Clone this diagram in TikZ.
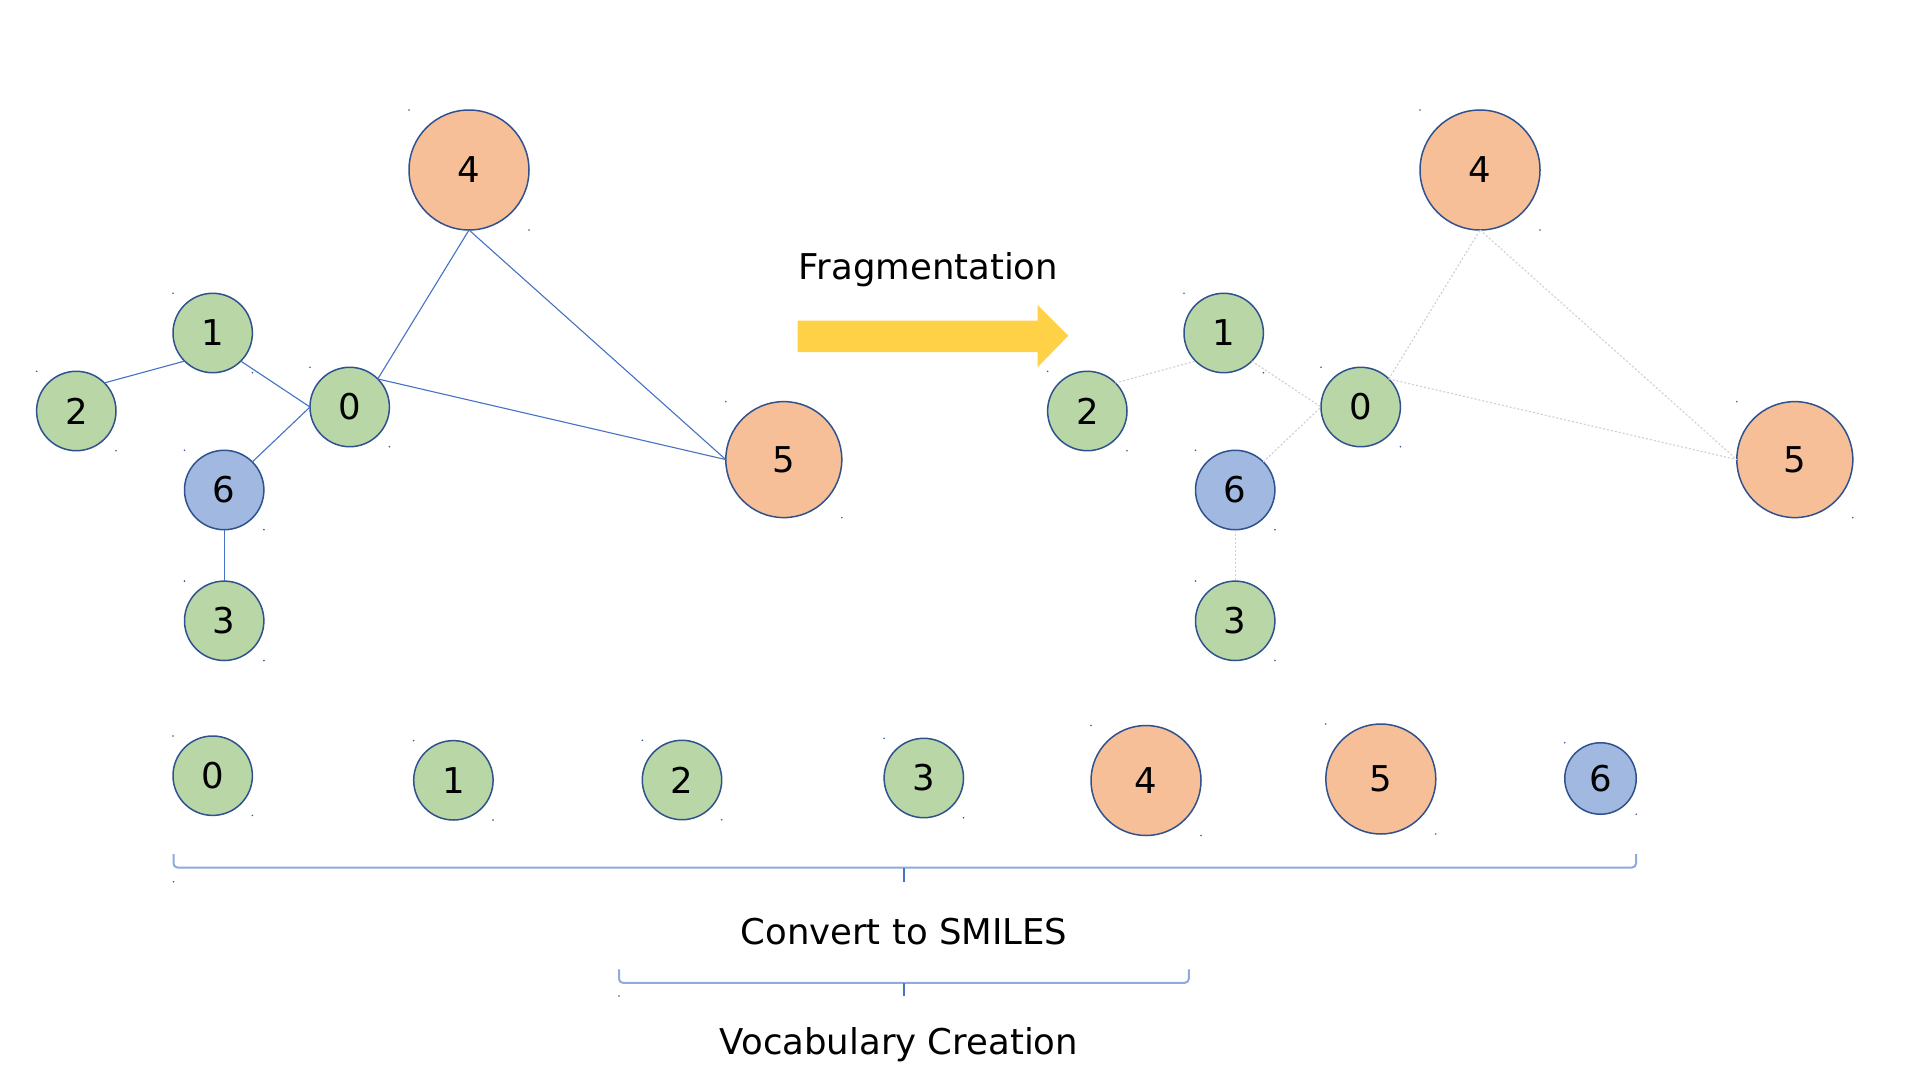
\documentclass[tikz,border=0pt]{standalone}
\usepackage{fontspec}
\setmainfont{DejaVu Sans}
\definecolor{gfill}{HTML}{B9D7A6}
\definecolor{ofill}{HTML}{F7BF98}
\definecolor{bfill}{HTML}{A1B8E1}
\definecolor{outl}{HTML}{2F528F}
\definecolor{edgec}{HTML}{4472C4}
\definecolor{fragc}{HTML}{CFCFCF}
\definecolor{bracec}{HTML}{8FAADC}
\definecolor{arrowc}{HTML}{FFD146}
\tikzset{
  atom/.style={circle, draw=outl, line width=1.5pt, inner sep=0pt, outer sep=0pt,
    font=\fontsize{35.5}{40}\selectfont},
  gatom/.style={atom, fill=gfill, minimum size=79.4pt},
  oatom/.style={atom, fill=ofill},
  batom/.style={atom, fill=bfill, minimum size=79.4pt},
  bond/.style={draw=edgec, line width=1.1pt},
  fbond/.style={draw=fragc, line width=1.1pt, dash pattern=on 2pt off 2pt},
  label/.style={font=\fontsize{35.5}{40}\selectfont, anchor=base, inner sep=0pt},
  bracestyle/.style={draw=bracec, line width=2pt, rounded corners=4pt},
  tickstyle/.style={draw=edgec, line width=2pt},
  dotc/.style={fill=edgec!80!black}
}
\begin{document}
\begin{tikzpicture}[x=1pt,y=-1pt]
\useasboundingbox (0,0) rectangle (1906,1074);
\fill[white] (0,0) rectangle (1906,1074);

% left graph
\node[oatom, minimum size=120pt] (L4) at (469,170) {4};
\node[gatom] (L1) at (212.7,333) {1};
\node[gatom] (L2) at (76.3,411) {2};
\node[gatom] (L0) at (349.7,407) {0};
\node[batom] (L6) at (224.2,490) {6};
\node[gatom] (L3) at (224.2,620.8) {3};
\node[oatom, minimum size=116pt] (L5) at (783.8,459.6) {5};
\draw[bond] (L2.north east) -- (L1.south west);
\draw[bond] (L1.south east) -- (L0.west);
\draw[bond] (L6.north east) -- (L0.west);
\draw[bond] (L6.south) -- (L3.north);
\draw[bond] (L0.north east) -- (L4.south);
\draw[bond] (L0.north east) -- (L5.west);
\draw[bond] (L4.south) -- (L5.west);

% right graph (fragmented)
\begin{scope}[xshift=1011pt]
\node[oatom, minimum size=120pt] (R4) at (469,170) {4};
\node[gatom] (R1) at (212.7,333) {1};
\node[gatom] (R2) at (76.3,411) {2};
\node[gatom] (R0) at (349.7,407) {0};
\node[batom] (R6) at (224.2,490) {6};
\node[gatom] (R3) at (224.2,620.8) {3};
\node[oatom, minimum size=116pt] (R5) at (783.8,459.6) {5};
\end{scope}
\begin{scope}[on background layer/.style={}]
\draw[fbond] (R2.north east) -- (R1.south west);
\draw[fbond] (R1.south east) -- (R0.west);
\draw[fbond] (R6.north east) -- (R0.west);
\draw[fbond] (R6.south) -- (R3.north);
\draw[fbond] (R0.north east) -- (R4.south);
\draw[fbond] (R0.north east) -- (R5.west);
\draw[fbond] (R4.south) -- (R5.west);
\end{scope}

% arrow
\fill[arrowc] (797.7,320.7) -- (1037.5,320.7) -- (1037.5,305) -- (1068.3,335.8)
  -- (1037.5,367.3) -- (1037.5,352) -- (797.7,352) -- cycle;
\node[label] (frag) at (928.5,279) {Fragmentation};

% vocabulary row
\node[gatom] (B0) at (212.7,775.7) {0};
\node[gatom] (B1) at (453.4,780.3) {1};
\node[gatom] (B2) at (682,780) {2};
\node[gatom] (B3) at (923.8,778) {3};
\node[oatom, minimum size=110pt] (B4) at (1146,780.5) {4};
\node[oatom, minimum size=110pt] (B5) at (1380.8,779) {5};
\node[batom, minimum size=71.5pt] (B6) at (1600.5,778.5) {6};

% tiny bounding-box dots
\foreach \n in {L0,L1,L2,L3,L4,L5,L6,R0,R1,R2,R3,R4,R5,R6,B0,B1,B2,B3,B4,B5,B6}{
  \fill[dotc] (\n.north -| \n.west) circle (0.9);
  \fill[dotc] (\n.south -| \n.east) circle (0.9);
}

% braces
\coordinate (bl) at (173.5,854);
\coordinate (br) at (1636,854);
\coordinate (bm) at (904.3,867.5);
\coordinate (bt) at (904.3,881.7);
\draw[bracestyle] (bl) -- (bl |- bm) -- (bm);
\draw[bracestyle] (br) -- (br |- bm) -- (bm);
\draw[tickstyle] (bm) -- (bt);
\fill[dotc] (bl |- bt) circle (0.9);

\coordinate (sl) at (619,969.3);
\coordinate (sr) at (1188.8,969.3);
\coordinate (sm) at (904.3,982.8);
\coordinate (st) at (904.3,996);
\draw[bracestyle] (sl) -- (sl |- sm) -- (sm);
\draw[bracestyle] (sr) -- (sr |- sm) -- (sm);
\draw[tickstyle] (sm) -- (st);
\fill[dotc] (sl |- st) circle (0.9);

\node[label] (smiles) at (904,944.3) {Convert to SMILES};
\node[label] (vocab) at (899,1054) {Vocabulary Creation};
\end{tikzpicture}
\end{document}
